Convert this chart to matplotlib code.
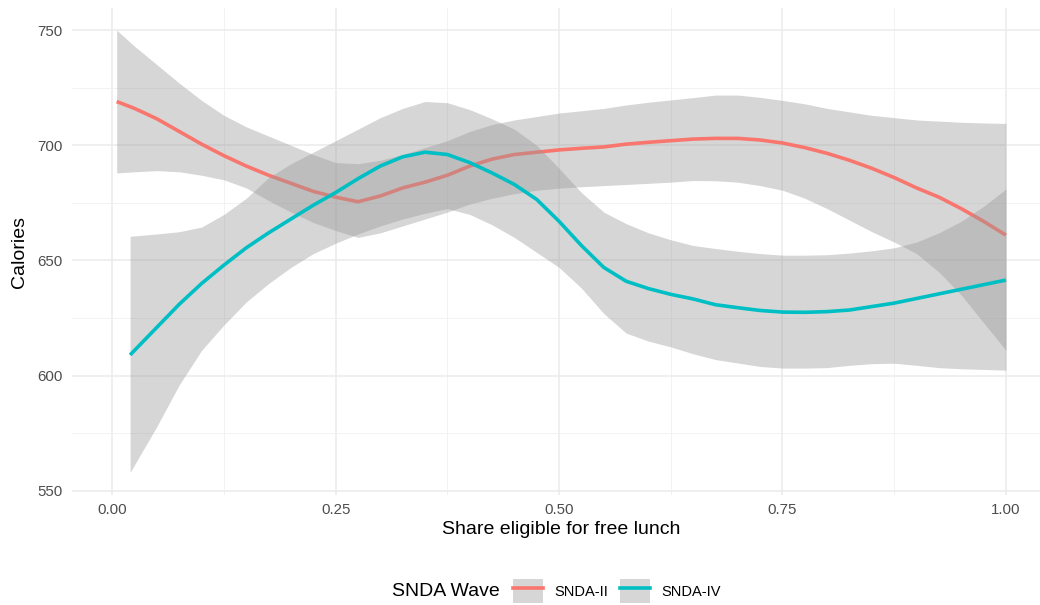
import matplotlib.pyplot as plt
from matplotlib.lines import Line2D
from matplotlib.patches import Patch

plt.rcParams['font.family'] = ['Liberation Sans', 'DejaVu Sans']

# SNDA-II smooth fit and confidence band
x_ii = [0.005, 0.025, 0.05, 0.075, 0.10, 0.125, 0.15, 0.175, 0.20, 0.225,
        0.25, 0.275, 0.30, 0.325, 0.35, 0.375, 0.40, 0.425, 0.45, 0.475,
        0.50, 0.525, 0.55, 0.575, 0.60, 0.625, 0.65, 0.675, 0.70, 0.725,
        0.75, 0.775, 0.80, 0.825, 0.85, 0.875, 0.90, 0.925, 0.95, 0.975, 1.00]
fit_ii = [719, 716, 711.5, 706, 700.5, 695.5, 691, 687, 683.5, 680,
          677.5, 675.5, 678, 681.5, 684, 687, 691, 694, 696, 697,
          698, 698.7, 699.3, 700.5, 701.3, 702, 702.7, 703, 703, 702.3,
          701, 699, 696.5, 693.5, 690, 686, 681.5, 677.5, 672.5, 667, 661]
hi_ii = [750, 743, 735, 727, 719.5, 713, 708, 704, 700, 696,
         692.5, 692, 693.5, 696, 699, 702, 706, 709, 711, 712.5,
         714, 715, 716, 717.5, 718.7, 719.7, 720.7, 721.8, 721.8, 720.8,
         719.5, 718, 716, 714.5, 713, 712, 711, 710.5, 710, 709.7, 709.5]
lo_ii = [688, 688.5, 689, 688.5, 687, 685, 681.5, 676, 671, 666.5,
         663, 660, 662, 665, 668, 671, 674.5, 677, 679, 680.5,
         681.4, 682, 682.5, 683, 683.5, 684, 684.7, 684.6, 684, 682.5,
         680.5, 677, 672.5, 667.5, 662.5, 658, 653, 645, 635, 623, 611]

# SNDA-IV smooth fit and confidence band
x_iv = [0.02, 0.05, 0.075, 0.10, 0.125, 0.15, 0.175, 0.20, 0.225,
        0.25, 0.275, 0.30, 0.325, 0.35, 0.375, 0.40, 0.425, 0.45, 0.475,
        0.50, 0.525, 0.55, 0.575, 0.60, 0.625, 0.65, 0.675, 0.70, 0.725,
        0.75, 0.775, 0.80, 0.825, 0.85, 0.875, 0.90, 0.925, 0.95, 0.975, 1.00]
fit_iv = [609, 621, 631, 640, 648, 655.5, 662, 668, 674,
          679.5, 685.5, 691, 695, 697, 696, 692.5, 688, 683, 676.5,
          667, 656.5, 647, 641, 637.8, 635.3, 633.3, 630.8, 629.5, 628.3,
          627.6, 627.5, 627.8, 628.5, 630, 631.5, 633.5, 635.5, 637.5, 639.5, 641.5]
hi_iv = [660.5, 661.5, 662.5, 664.5, 670, 677, 686, 692, 697,
         702, 707, 712, 716, 719, 718.5, 715.5, 711.5, 707, 700,
         690, 679.5, 671, 666, 662, 659, 656.5, 655.2, 654, 653,
         652.3, 652.3, 652.5, 653.2, 654.2, 655.5, 658, 662, 667, 673.5, 681]
lo_iv = [558, 578, 596, 611, 622, 632, 640, 647, 653,
         657.5, 661.5, 665, 668, 670.5, 672.5, 670, 665.5, 660, 653.5,
         647, 638, 627, 618.5, 615, 612.5, 609.5, 607, 605.5, 604,
         603.3, 603.3, 603.5, 604.5, 605.2, 605.4, 604.5, 603.5, 603, 602.7, 602.4]

x_ticks = [0.0, 0.25, 0.5, 0.75, 1.0]
x_labels = ['0.00', '0.25', '0.50', '0.75', '1.00']
y_ticks = [550, 600, 650, 700, 750]

red = '#F8766D'
teal = '#00BFC4'
band = '#999999'

fig = plt.figure(figsize=(10.4, 6.05), dpi=100)
ax = fig.add_axes([72 / 1040, 1 - 495 / 605, 978.6 / 1040, 487 / 605])

ax.fill_between(x_ii, lo_ii, hi_ii, color=band, alpha=0.4, lw=0, zorder=2)
ax.plot(x_ii, fit_ii, color=red, lw=2.6, zorder=3, solid_capstyle='butt')
ax.fill_between(x_iv, lo_iv, hi_iv, color=band, alpha=0.4, lw=0, zorder=4)
ax.plot(x_iv, fit_iv, color=teal, lw=2.6, zorder=5, solid_capstyle='butt')

ax.set_xlim(-0.045, 1.05)
ax.set_ylim(548.2, 759.6)
ax.set_xticks(x_ticks)
ax.set_xticklabels(x_labels)
ax.set_yticks(y_ticks)
ax.set_xticks([0.125, 0.375, 0.625, 0.875], minor=True)
ax.set_yticks([575, 625, 675, 725], minor=True)
ax.grid(which='major', color='#EBEBEB', lw=1.1, zorder=0)
ax.grid(which='minor', color='#F0F0F0', lw=0.6, zorder=0)
ax.set_axisbelow(True)
for s in ax.spines.values():
    s.set_visible(False)
ax.tick_params(which='both', length=0, labelsize=10.8, labelcolor='#4D4D4D')
ax.tick_params(axis='y', pad=7)
ax.tick_params(axis='x', pad=6)

ax.set_xlabel('Share eligible for free lunch', fontsize=14)
ax.xaxis.label.set_va('center')
ax.xaxis.set_label_coords(0.5, -(529 - 495) / 487)
ax.set_ylabel('Calories', fontsize=14)
ax.yaxis.label.set_va('center')
ax.yaxis.set_label_coords(-52 / 978.6, 0.5)

fig.text(392 / 1040, 1 - 591 / 605, 'SNDA Wave', fontsize=14, ha='left', va='center')
handles = [(Patch(facecolor='#D6D6D6', lw=0), Line2D([], [], color=red, lw=2.6)),
           (Patch(facecolor='#D6D6D6', lw=0), Line2D([], [], color=teal, lw=2.6))]
fig.legend(handles, ['SNDA-II', 'SNDA-IV'], loc='center left',
           bbox_to_anchor=(513 / 1040, 1 - 591 / 605), ncol=2, frameon=False,
           fontsize=10.5, handlelength=2.05, handleheight=2.05,
           handletextpad=0.8, columnspacing=0.8, borderpad=0, borderaxespad=0)

fig.savefig('out.png', dpi=100)
